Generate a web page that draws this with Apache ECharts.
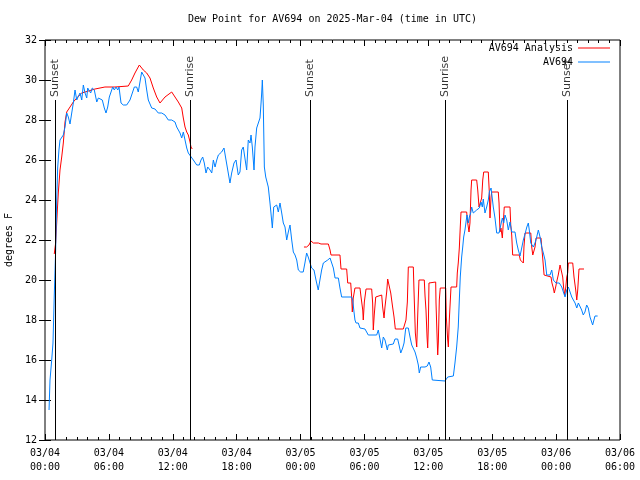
<!DOCTYPE html>
<html><head><meta charset="utf-8">
<script src="https://cdn.jsdelivr.net/npm/echarts@6/dist/echarts.min.js"></script>
<style>html,body{margin:0;padding:0;background:#fff}#c{width:640px;height:480px}</style>
</head><body><div id="c"></div>
<script>
const titleText = 'Dew Point for AV694 on 2025-Mar-04 (time in UTC)';
const tickLabels = ['03/04\n00:00','03/04\n06:00','03/04\n12:00','03/04\n18:00','03/05\n00:00','03/05\n06:00','03/05\n12:00','03/05\n18:00','03/06\n00:00','03/06\n06:00'];
// hours since 2025-03-04 00:00 UTC
const obsHours = [0.38,0.47,0.63,0.75,0.87,1.00,1.10,1.19,1.31,1.41,1.72,1.88,2.04,2.19,2.35,2.51,2.66,2.82,2.98,3.10,3.29,3.45,3.60,3.76,3.92,4.01,4.16,4.29,4.44,4.63,4.86,5.01,5.17,5.38,5.57,5.73,5.89,6.04,6.20,6.36,6.51,6.67,6.83,6.95,7.14,7.35,7.67,7.98,8.20,8.39,8.61,8.76,8.92,9.08,9.18,9.39,9.55,9.70,10.02,10.33,10.64,10.96,11.27,11.58,11.90,12.21,12.37,12.68,12.84,12.99,13.15,13.31,13.46,13.62,13.93,14.25,14.49,14.65,14.81,14.96,15.12,15.28,15.50,15.66,15.81,15.97,16.13,16.28,16.59,16.81,17.00,17.21,17.37,17.53,17.75,17.94,18.15,18.31,18.47,18.62,18.78,18.94,19.09,19.25,19.35,19.47,19.63,19.72,19.88,20.03,20.19,20.29,20.35,20.41,20.50,20.60,20.73,20.88,20.97,21.13,21.22,21.35,21.48,21.60,21.76,21.91,22.07,22.23,22.38,22.54,22.70,22.85,23.01,23.17,23.32,23.48,23.64,23.79,24.01,24.25,24.41,24.57,24.72,24.88,25.04,25.26,25.45,25.66,25.82,25.98,26.14,26.30,26.55,26.77,26.93,27.08,27.24,27.55,27.70,27.86,28.80,28.90,29.02,29.11,29.21,29.42,29.58,29.74,30.05,30.36,31.15,31.30,31.40,31.53,31.62,31.77,31.93,32.15,32.24,32.40,32.71,32.87,33.12,33.25,33.41,33.59,33.72,33.88,34.12,34.28,34.44,34.75,34.91,35.06,35.15,35.28,35.69,35.90,36.06,36.22,36.37,37.57,37.82,38.35,38.50,38.66,38.81,38.91,39.00,39.13,39.23,39.32,39.44,39.54,39.63,39.75,39.85,39.98,40.07,40.22,40.38,40.54,40.69,40.79,40.95,41.07,41.16,41.32,41.48,41.63,41.73,41.89,41.95,42.10,42.26,42.42,42.64,42.82,42.95,43.08,43.20,43.36,43.51,43.67,43.83,43.98,44.14,44.30,44.45,44.61,44.77,44.92,45.08,45.25,45.39,45.48,45.62,45.74,45.86,46.02,46.18,46.33,46.49,46.65,46.80,46.96,47.12,47.27,47.43,47.59,47.74,47.83,47.99,48.30,48.53,48.68,48.84,49.00,49.15,49.31,49.47,49.62,49.78,49.94,50.09,50.24,50.40,50.55,50.71,50.87,51.02,51.18,51.34,51.43,51.55,51.65,51.90];
const obsValues = [13.5,15.0,16.0,16.85,19.2,21.5,24.0,25.6,26.5,27.0,27.25,27.65,28.35,28.15,27.8,28.35,28.85,29.5,29.0,29.15,29.35,29.0,29.75,29.35,29.1,29.6,29.65,29.35,29.6,29.5,28.9,29.1,29.15,29.0,28.6,28.35,28.65,29.15,29.4,29.65,29.5,29.65,29.5,29.65,28.85,28.75,28.75,29.0,29.35,29.65,29.65,29.4,29.9,30.4,30.45,30.1,29.5,29.0,28.6,28.55,28.35,28.35,28.25,28.0,28.0,27.9,27.65,27.35,27.1,27.4,27.0,26.6,26.35,26.25,26.0,25.75,25.75,26.0,26.15,25.85,25.35,25.65,25.5,25.35,26.0,25.65,26.0,26.25,26.4,26.6,26.0,25.35,24.85,25.35,25.85,26.0,25.25,25.4,26.5,26.65,26.75,25.5,27.0,26.85,27.25,26.65,25.5,26.65,27.6,27.65,28.1,28.85,29.35,30.0,28.75,25.65,25.15,25.25,24.65,23.85,23.35,22.6,23.65,23.6,23.75,23.4,23.85,23.35,22.85,22.65,22.0,22.4,22.75,22.0,21.4,21.25,21.0,20.5,20.4,20.4,20.85,21.35,21.15,21.15,20.6,20.5,20.0,19.5,20.0,20.5,20.85,20.9,21.0,21.1,21.0,20.6,20.1,20.1,19.6,19.15,19.15,19.0,18.4,18.0,17.85,17.85,17.6,17.55,17.55,17.25,17.25,17.5,17.5,16.85,16.6,17.15,17.0,16.5,16.75,16.8,16.8,17.05,17.05,16.75,16.35,16.6,16.85,17.6,17.6,17.15,16.75,16.4,16.1,15.75,15.35,15.65,15.65,15.7,15.9,15.65,15.0,14.95,15.15,15.2,15.85,16.65,17.65,19.0,20.15,21.15,21.65,22.15,22.5,22.9,23.25,22.85,23.15,23.35,23.65,23.35,23.4,23.5,23.4,23.6,23.9,23.65,24.05,23.35,23.65,24.0,24.4,24.6,24.65,23.65,23.1,22.35,22.35,22.4,23.1,22.85,23.25,23.0,22.5,22.9,22.4,22.5,22.4,21.85,21.5,21.2,21.6,22.0,22.3,22.65,22.85,22.5,21.85,21.9,21.65,21.85,22.15,22.5,22.15,21.65,21.35,21.0,20.25,20.15,20.25,20.5,20.0,19.9,19.85,19.85,19.65,19.4,19.15,19.5,19.65,19.4,19.15,19.0,18.85,18.6,18.85,18.75,18.5,18.25,18.4,18.75,18.6,18.15,17.9,17.75,18.0,18.2,18.2];
const anaHours = [0.87,1.00,1.10,1.16,1.25,1.41,1.57,1.72,1.88,2.04,2.35,2.66,2.98,3.45,3.76,4.70,5.63,6.57,7.82,8.14,8.45,8.86,9.23,9.55,9.86,10.17,10.49,10.80,11.27,11.90,12.21,12.52,12.84,12.99,13.15,13.31,13.46,13.62,13.71,13.83,19.0,24.32,24.57,24.79,24.98,25.20,25.67,25.92,26.61,26.77,26.86,27.70,27.80,28.33,28.43,28.71,28.80,28.86,28.95,29.11,29.58,29.68,29.84,29.89,29.99,30.15,30.68,30.77,30.83,30.92,31.06,31.15,31.62,31.71,31.84,31.93,32.09,32.18,32.33,32.47,32.62,32.78,32.90,33.65,33.81,33.90,34.03,34.12,34.59,34.66,34.78,34.91,35.01,35.12,35.62,35.69,35.78,35.88,35.94,36.00,36.06,36.69,36.72,36.81,36.88,36.94,37.03,37.12,37.63,37.69,37.82,37.88,37.97,38.13,38.66,38.72,38.81,38.91,39.00,39.07,39.60,39.70,39.82,39.91,40.01,40.07,40.54,40.64,40.76,40.85,41.01,41.11,41.20,41.63,41.73,41.79,41.89,41.95,42.57,42.64,42.73,42.82,42.95,43.01,43.13,43.67,43.74,43.83,43.92,44.54,44.64,44.77,44.92,44.98,45.08,45.62,45.71,45.81,45.93,46.02,46.12,46.58,46.65,46.74,46.87,46.96,47.52,47.61,47.74,47.83,47.96,48.05,48.20,48.37,48.53,48.62,48.71,48.81,48.90,49.00,49.09,49.15,49.56,49.68,49.84,49.94,50.03,50.15,50.62];
const anaValues = [21.3,21.85,22.85,23.5,24.35,25.5,26.15,26.85,27.9,28.4,28.65,28.9,29.1,29.35,29.4,29.55,29.65,29.65,29.7,30.0,30.35,30.75,30.5,30.35,30.1,29.6,29.15,28.85,29.15,29.4,29.15,28.9,28.6,28.1,27.65,27.4,27.25,26.9,26.65,26.55,null,21.65,21.65,21.75,21.95,21.85,21.85,21.8,21.8,21.5,21.25,21.25,20.55,20.55,19.85,19.85,19.15,18.4,19.1,19.6,19.6,19.15,18.5,18.0,18.9,19.55,19.55,18.85,17.5,18.25,19.15,19.25,19.25,18.65,18.1,18.65,19.4,20.05,20.0,19.35,18.75,18.15,17.55,17.55,17.5,18.0,18.9,20.65,20.65,19.35,17.35,16.65,18.35,20.0,20.0,19.2,18.5,17.15,16.6,17.65,19.85,19.9,18.85,17.35,16.25,16.9,19.0,19.6,19.6,18.15,17.0,16.65,18.0,19.65,19.65,20.35,20.85,21.6,22.65,23.4,23.4,22.85,22.4,22.85,24.5,25.0,25.0,24.5,23.65,23.65,24.1,25.0,25.4,25.4,24.35,23.1,24.15,24.4,24.4,23.85,22.4,22.6,22.1,22.6,23.65,23.65,22.75,22.25,21.25,21.25,21.0,21.05,20.85,21.65,22.35,22.35,21.65,21.25,21.25,21.65,22.1,22.1,21.65,21.1,20.25,20.15,20.15,19.85,19.6,19.35,19.65,19.9,20.25,20.75,20.75,20.15,19.6,19.25,19.6,20.15,20.35,20.85,20.85,20.15,19.5,19.0,19.5,20.55,20.55];
const sunHours = [0.94,13.62,24.89,37.57,49.02];
const sunLabels = ['Sunset','Sunrise','Sunset','Sunrise','Sunset'];
const sunLineTop = 29;

const mono = 'DejaVu Sans Mono';
const chart = echarts.init(document.getElementById('c'), null, {renderer:'canvas'});
const obsData = obsHours.map((h,i)=>[h,obsValues[i]]);
const anaData = anaHours.map((h,i)=>[h,anaValues[i]===null?'-':anaValues[i]]);
const sunLines = sunHours.map(h=>[{coord:[h,sunLineTop]},{coord:[h,12]}]);
const sunPts = sunHours.map((h,i)=>({value:[h,sunLineTop],label:{formatter:sunLabels[i]}}));
const axisCommon = {
  min:0,max:54,interval:6,type:'value',
  axisLine:{show:false},
  splitLine:{show:false},
  axisTick:{inside:true,length:6,lineStyle:{color:'#000'}},
  minorTick:{show:true,splitNumber:6,length:3,lineStyle:{color:'#000'}},
  minorSplitLine:{show:false}
};
chart.setOption({
  animation:false,
  backgroundColor:'#fff',
  title:{text:titleText,left:183,top:9,textStyle:{fontFamily:mono,fontSize:10,fontWeight:'normal',color:'#000'}},
  grid:{left:45,right:20,top:40,bottom:40,outerBoundsMode:'none',containLabel:false,show:true,borderColor:'#000',borderWidth:1,backgroundColor:'transparent'},
  legend:{data:[{name:'AV694 Analysis',icon:'rect'},{name:'AV694',icon:'rect'}],orient:'vertical',right:30,top:42,align:'right',itemWidth:32,itemHeight:1,itemGap:2,padding:0,
    textStyle:{fontFamily:mono,fontSize:10,color:'#000',lineHeight:12}},
  xAxis:[
    Object.assign({},axisCommon,{position:'bottom',axisLabel:{formatter:v=>tickLabels[Math.round(v/6)],fontFamily:mono,fontSize:10,color:'#000',lineHeight:14,margin:6}}),
    Object.assign({},axisCommon,{position:'top',axisLabel:{show:false}})
  ],
  yAxis:[
    {type:'value',min:12,max:32,interval:2,position:'left',name:'degrees F',nameLocation:'middle',nameGap:28,nameRotate:90,
      nameTextStyle:{fontFamily:mono,fontSize:10,color:'#000'},
      axisLine:{show:false},splitLine:{show:false},axisTick:{inside:true,length:6,lineStyle:{color:'#000'}},
      axisLabel:{fontFamily:mono,fontSize:10,color:'#000',margin:8}},
    {type:'value',min:12,max:32,interval:2,position:'right',
      axisLine:{show:false},splitLine:{show:false},axisTick:{inside:true,length:6,lineStyle:{color:'#000'}},axisLabel:{show:false}}
  ],
  series:[
    {name:'AV694 Analysis',type:'line',data:anaData,symbol:'none',connectNulls:false,lineStyle:{color:'#ff0000',width:1},itemStyle:{color:'#ff0000'},z:2},
    {name:'AV694',type:'line',data:obsData,symbol:'none',lineStyle:{color:'#0080ff',width:1},itemStyle:{color:'#0080ff'},z:3},
    {name:'sun',type:'scatter',data:sunPts,symbolSize:0,silent:true,z:5,
      label:{show:true,position:'top',distance:3,rotate:90,align:'left',verticalAlign:'middle',fontFamily:'DejaVu Sans',fontSize:11,color:'#000'},
      markLine:{silent:true,symbol:['none','none'],label:{show:false},lineStyle:{color:'#000',width:1,type:'solid'},data:sunLines,animation:false}}
  ]
});
</script></body></html>
